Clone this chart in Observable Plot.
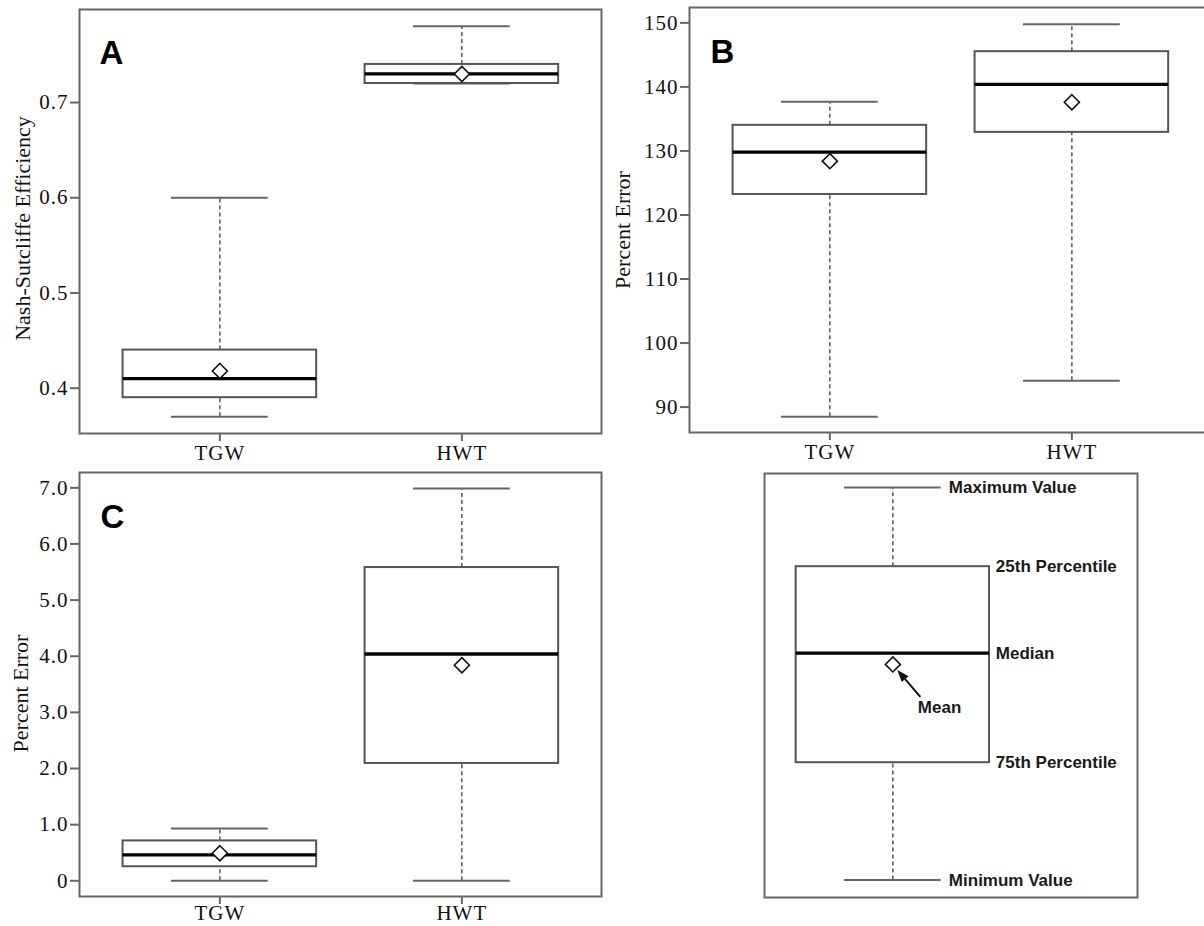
<!DOCTYPE html>
<html><head><meta charset="utf-8">
<script src="https://cdn.jsdelivr.net/npm/d3@7"></script>
<script src="https://cdn.jsdelivr.net/npm/@observablehq/plot@0.6"></script>
<style>
html,body{margin:0;padding:0;background:#fff;overflow:hidden;}
#wrap{position:relative;width:1204px;height:926px;overflow:hidden;background:#fff;}
#wrap > svg{position:absolute;}
#wrap g[aria-label="x-axis tick label"], #wrap g[aria-label="y-axis tick label"]{font-size:21px;letter-spacing:1px;}
</style></head><body><div id="wrap"></div>
<script>
// ---- categories ----
const groups = ["TGW", "HWT"];
const positions = [1, 2];

// ---- Panel A: Nash-Sutcliffe Efficiency ----
const nseMin    = [0.37, 0.72];
const nseQ1     = [0.39, 0.72];
const nseMedian = [0.41, 0.73];
const nseMean   = [0.418, 0.73];
const nseQ3     = [0.44, 0.74];
const nseMax    = [0.60, 0.78];
const nseTicks  = [0.4, 0.5, 0.6, 0.7];

// ---- Panel B: Percent Error ----
const peBMin    = [88.5, 94.1];
const peBQ1     = [123.2, 132.9];
const peBMedian = [129.8, 140.4];
const peBMean   = [128.4, 137.6];
const peBQ3     = [134.0, 145.5];
const peBMax    = [137.7, 149.8];
const peBTicks  = [90, 100, 110, 120, 130, 140, 150];

// ---- Panel C: Percent Error ----
const peCMin    = [0, 0];
const peCQ1     = [0.25, 2.09];
const peCMedian = [0.46, 4.04];
const peCMean   = [0.49, 3.84];
const peCQ3     = [0.71, 5.58];
const peCMax    = [0.93, 6.99];
const peCTicks  = [0, 1, 2, 3, 4, 5, 6, 7];

// ---- Panel D: legend labels ----
const legendOuter = ["Maximum Value", "Minimum Value"];
const legendBox   = ["25th Percentile", "Median", "75th Percentile"];
const legendMean  = "Mean";

const labels = {A: "Nash-Sutcliffe Efficiency", B: "Percent Error", C: "Percent Error"};

function rowsOf(mn, q1, md, me, q3, mx) {
  return positions.map((p, i) => ({pos: p, group: groups[i], min: mn[i], q1: q1[i], median: md[i], mean: me[i], q3: q3[i], max: mx[i]}));
}

const BOX = 0.4, CAP = 0.2;
const SERIF = "'Liberation Serif','Times New Roman',serif";
const SANS = "'Liberation Sans',Arial,sans-serif";

function boxMarks(rows) {
  return [
    Plot.ruleX(rows, {x: "pos", y1: "q3", y2: "max", stroke: "#555", strokeWidth: 1.5, strokeDasharray: "4,3"}),
    Plot.ruleX(rows, {x: "pos", y1: "min", y2: "q1", stroke: "#555", strokeWidth: 1.5, strokeDasharray: "4,3"}),
    Plot.ruleY(rows, {y: "max", x1: d => d.pos - CAP, x2: d => d.pos + CAP, stroke: "#666", strokeWidth: 2}),
    Plot.ruleY(rows, {y: "min", x1: d => d.pos - CAP, x2: d => d.pos + CAP, stroke: "#666", strokeWidth: 2}),
    Plot.rect(rows, {x1: d => d.pos - BOX, x2: d => d.pos + BOX, y1: "q1", y2: "q3", fill: "white", stroke: "#555", strokeWidth: 2}),
    Plot.ruleY(rows, {y: "median", x1: d => d.pos - BOX, x2: d => d.pos + BOX, stroke: "#000", strokeWidth: 3.3}),
    Plot.dot(rows, {x: "pos", y: "mean", symbol: "diamond2", r: 6.8, fill: "white", stroke: "#111", strokeWidth: 1.6})
  ];
}

const X_DOMAIN = [0.42, 2.577];

function panel({rows, letter, label, width, height, ml, mr, mt, mb, yDomain, yTicks, yFormat, labelDx, labelDy, letterDx, letterDy, xPad = 4}) {
  return Plot.plot({
    width, height,
    marginLeft: ml, marginRight: mr, marginTop: mt, marginBottom: mb,
    x: {domain: X_DOMAIN},
    y: {domain: yDomain},
    style: {fontFamily: SERIF, fontSize: "20px", color: "#111", background: "transparent", overflow: "visible"},
    marks: [
      Plot.frame({stroke: "#666", strokeWidth: 2}),
      Plot.axisX({ticks: positions, tickFormat: d => groups[positions.indexOf(d)], tickSize: 8, tickPadding: xPad, label: null, stroke: "#666", strokeWidth: 2, fill: "#111"}),
      Plot.axisY({ticks: yTicks, tickFormat: yFormat, tickSize: 9, tickPadding: 2, label: null, stroke: "#666", strokeWidth: 2, fill: "#111"}),
      ...boxMarks(rows),
      Plot.text([letter], {frameAnchor: "top-left", dx: letterDx, dy: letterDy, textAnchor: "start", lineAnchor: "top", fontFamily: SANS, fontWeight: "bold", fontSize: 33, fill: "#000"}),
      Plot.text([label], {frameAnchor: "left", rotate: -90, dx: labelDx, dy: labelDy, textAnchor: "middle", lineAnchor: "middle", fontFamily: SERIF, fontSize: 22, fill: "#111"})
    ]
  });
}

const wrap = document.getElementById("wrap");
function place(svg, left, top) {
  svg.style.left = left + "px";
  svg.style.top = top + "px";
  wrap.appendChild(svg);
}

const rowsA = rowsOf(nseMin, nseQ1, nseMedian, nseMean, nseQ3, nseMax);
const rowsB = rowsOf(peBMin, peBQ1, peBMedian, peBMean, peBQ3, peBMax);
const rowsC = rowsOf(peCMin, peCQ1, peCMedian, peCMean, peCQ3, peCMax);

place(panel({rows: rowsA, letter: "A", label: labels.A, width: 610, height: 470, ml: 79, mr: 9, mt: 9, mb: 37,
  yDomain: [0.3524, 0.7977], yTicks: nseTicks, yFormat: d3.format(".1f"),
  labelDx: -57, labelDy: 7, letterDx: 20, letterDy: 31}), 0, 0);

place(panel({rows: rowsB, letter: "B", label: labels.B, width: 620, height: 470, ml: 89, mr: 9, mt: 7, mb: 38,
  yDomain: [86.03, 152.4], yTicks: peBTicks, yFormat: d3.format("d"),
  labelDx: -67, labelDy: 10, letterDx: 21, letterDy: 32}), 600, 0);

place(panel({rows: rowsC, letter: "C", label: labels.C, width: 610, height: 466, ml: 79, mr: 9, mt: 12, mb: 30,
  yDomain: [-0.28, 7.273], yTicks: peCTicks, yFormat: d => d === 0 ? "0" : d.toFixed(1),
  labelDx: -59, labelDy: 9, letterDx: 21, letterDy: 32, xPad: 1}), 0, 460);

// ---- Panel D: explanatory box (same box as C / HWT) ----
const legendRow = [rowsC[1]];
const outerRows = [{text: legendOuter[0], v: legendRow[0].max, pos: legendRow[0].pos}, {text: legendOuter[1], v: legendRow[0].min, pos: legendRow[0].pos}];
const boxRows = [{text: legendBox[0], v: legendRow[0].q3, pos: legendRow[0].pos}, {text: legendBox[1], v: legendRow[0].median, pos: legendRow[0].pos}, {text: legendBox[2], v: legendRow[0].q1, pos: legendRow[0].pos}];
const meanRows = [{text: legendMean, v: legendRow[0].mean, pos: legendRow[0].pos}];
const lblStyle = {x: "pos", y: "v", text: "text", textAnchor: "start", lineAnchor: "middle", fontFamily: SANS, fontWeight: "bold", fontSize: 17, fill: "#1a1a1a"};

const svgD = Plot.plot({
  width: 464, height: 466,
  marginLeft: 24, marginRight: 67, marginTop: 13, marginBottom: 29,
  x: {domain: [1.469, 3.012], axis: null},
  y: {domain: [-0.31, 7.239], axis: null},
  style: {fontFamily: SANS, background: "transparent", overflow: "visible"},
  marks: [
    Plot.frame({stroke: "#666", strokeWidth: 2}),
    ...boxMarks(legendRow),
    Plot.text(outerRows, {...lblStyle, dx: 56}),
    Plot.text(boxRows, {...lblStyle, dx: 103}),
    Plot.text(meanRows, {...lblStyle, dx: 25, dy: 43})
  ]
});
place(svgD, 740, 460);

// arrow from "Mean" label to the mean diamond, positioned with the plot's own scales
{
  const sx = svgD.scale("x"), sy = svgD.scale("y");
  const cx = sx.apply(legendRow[0].pos), cy = sy.apply(legendRow[0].mean);
  const tail = [cx + 28, cy + 33], tip = [cx + 5, cy + 6];
  const ux = tip[0] - tail[0], uy = tip[1] - tail[1], L = Math.hypot(ux, uy);
  const u = [ux / L, uy / L], n = [-u[1], u[0]];
  const hl = 12, hw = 4.5;
  const base = [tip[0] - u[0] * hl, tip[1] - u[1] * hl];
  const g = d3.select(svgD).append("g");
  g.append("line").attr("x1", tail[0]).attr("y1", tail[1]).attr("x2", base[0]).attr("y2", base[1])
    .attr("stroke", "#111").attr("stroke-width", 2);
  g.append("path").attr("d", `M${tip}L${base[0] + n[0] * hw},${base[1] + n[1] * hw}L${base[0] - n[0] * hw},${base[1] - n[1] * hw}Z`)
    .attr("fill", "#111");
}
</script></body></html>
